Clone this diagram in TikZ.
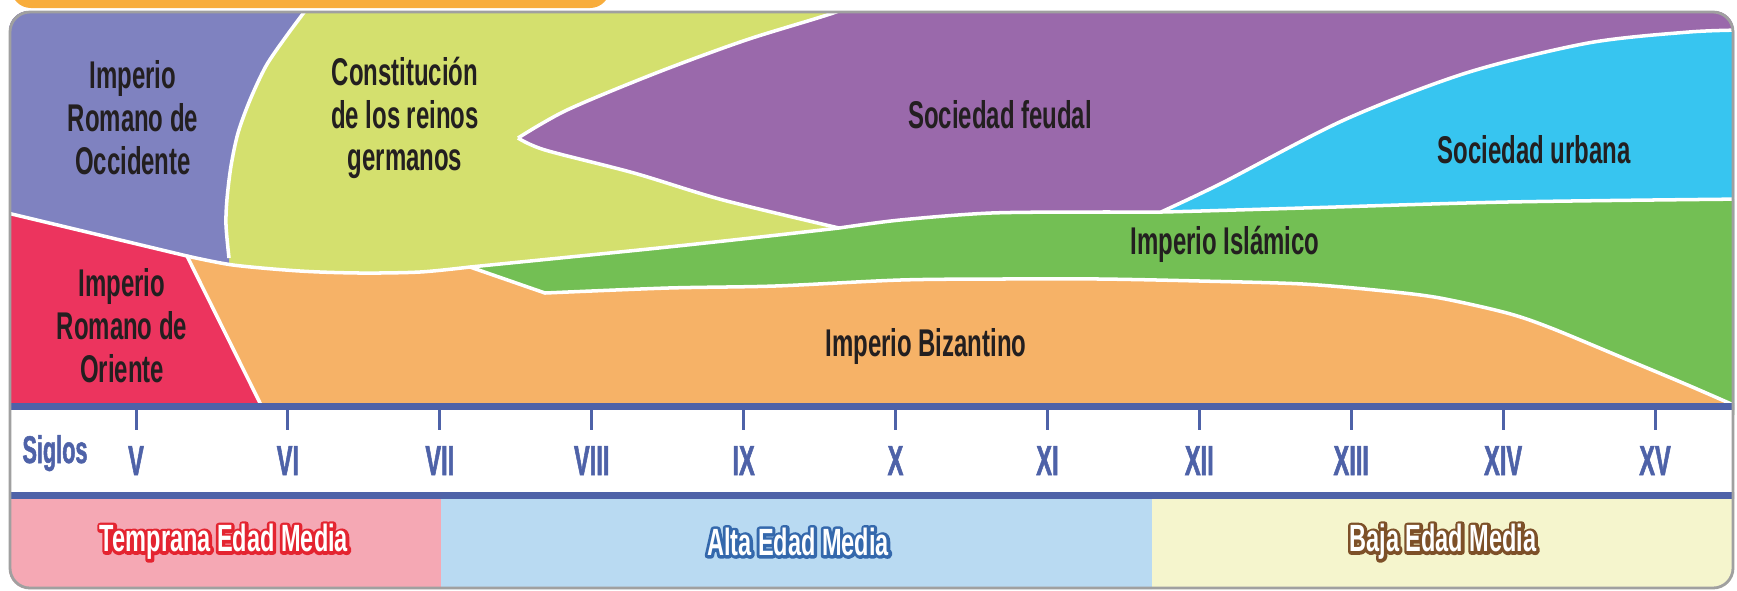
\documentclass[tikz,border=0pt]{standalone}
\usepackage{fontspec}
\setmainfont{Liberation Sans}[FakeStretch=0.62]
\newfontfamily\narrowfont{Liberation Sans}[FakeStretch=0.56,FakeBold=1.2]

\definecolor{occidente}{RGB}{127,130,192}
\definecolor{germanos}{RGB}{212,224,110}
\definecolor{feudal}{RGB}{154,105,171}
\definecolor{urbana}{RGB}{55,197,240}
\definecolor{islamico}{RGB}{115,191,84}
\definecolor{bizantino}{RGB}{246,178,103}
\definecolor{oriente}{RGB}{236,52,94}
\definecolor{axisblue}{RGB}{78,98,168}
\definecolor{temprana}{RGB}{245,168,180}
\definecolor{alta}{RGB}{185,218,242}
\definecolor{baja}{RGB}{245,245,205}
\definecolor{tempranaedge}{RGB}{228,36,48}
\definecolor{altaedge}{RGB}{52,104,172}
\definecolor{bajaedge}{RGB}{125,80,40}
\definecolor{tab}{RGB}{248,173,60}
\definecolor{framegray}{RGB}{160,160,160}
\definecolor{ink}{RGB}{35,31,32}

% white letters with a coloured rim
\newcommand{\edged}[2]{\leavevmode\rlap{\special{pdf:literal direct 2 Tr 1.7 w 1 j}\textcolor{#1}{#2}\special{pdf:literal direct 0 Tr}}#2}

\begin{document}
\begin{tikzpicture}[x=0.1mm,y=-0.1mm,
  border/.style={white,line width=1pt},
  region/.style={text=ink,font=\bfseries\fontsize{11}{12.2}\selectfont,align=center},
  siglo/.style={text=axisblue,font=\narrowfont\bfseries\fontsize{12}{13}\selectfont,anchor=base},
  era/.style={text=white,font=\bfseries\fontsize{10.8}{12}\selectfont},
  sigtick/.style={axisblue,line width=0.3mm}]
\useasboundingbox (0,0) rectangle (1737,590);
\fill[tab,rounded corners=2mm] (11,-30) rectangle (610,8);
\begin{scope}
\clip[rounded corners=2mm] (9,11) rectangle (1734,589);
% zonas
\fill[feudal] (0,0) rectangle (1745,415);
\fill[germanos] (200,-5) -- plot[smooth] coordinates {(862,-2) (836,12) (746,40) (656,73) (567,110) (518,138)}
  -- plot[smooth] coordinates {(518,138) (545,150) (634,173) (723,200) (839,228)} -- (839,415) -- (200,415) -- cycle;
\fill[occidente] (-5,415) -- (229,415) -- plot[smooth] coordinates {(229,258) (226,225) (227,199) (231,166) (238,133) (250,100) (266,66) (285,38) (305,11) (312,1)}
  -- (-5,-5) -- cycle;
\fill[urbana] (1161,415) -- plot[smooth] coordinates {(1161,212) (1222,183) (1344,120) (1466,73) (1588,43) (1689,32) (1745,30)}
  -- (1750,415) -- cycle;
\fill[islamico] (470,415) -- plot[smooth] coordinates {(470,267) (560,258) (668,247) (760,237) (839,228)}
  -- plot[smooth] coordinates {(839,228) (900,220) (991,213) (1100,212) (1161,212) (1303,208) (1507,202) (1745,199)}
  -- (1750,415) -- cycle;
\fill[bizantino] (100,415) -- (100,256) -- plot[smooth] coordinates {(187,256) (233,265) (300,271) (360,273) (420,272) (470,267)}
  -- plot[smooth] coordinates {(545,293) (668,288) (775,286) (900,280) (1000,279) (1100,279) (1200,281) (1303,284) (1385,291) (1440,298) (1507,313) (1551,328) (1628,360) (1690,386) (1745,410)}
  -- (1750,415) -- cycle;
\fill[oriente] (-5,210) -- (187,256) -- (266,415) -- (-5,415) -- cycle;
% bordes blancos
\draw[border] (-5,210) -- (187,256) -- (266,415);
\draw[border] plot[smooth] coordinates {(187,256) (233,265) (300,271) (360,273) (420,272) (470,267)};
\draw[border] plot[smooth] coordinates {(470,267) (560,258) (668,247) (760,237) (839,228)};
\draw[border] plot[smooth] coordinates {(839,228) (900,220) (991,213) (1100,212) (1161,212) (1303,208) (1507,202) (1745,199)};
\draw[border] (470,267) -- plot[smooth] coordinates {(545,293) (668,288) (775,286) (900,280) (1000,279) (1100,279) (1200,281) (1303,284) (1385,291) (1440,298) (1507,313) (1551,328) (1628,360) (1690,386) (1745,410)};
\draw[border] plot[smooth] coordinates {(862,-2) (836,12) (746,40) (656,73) (567,110) (518,138)};
\draw[border] plot[smooth] coordinates {(518,138) (545,150) (634,173) (723,200) (839,228)};
\draw[border] plot[smooth] coordinates {(229,258) (226,225) (227,199) (231,166) (238,133) (250,100) (266,66) (285,38) (305,11) (312,1)};
\draw[border] plot[smooth] coordinates {(1161,212) (1222,183) (1344,120) (1466,73) (1588,43) (1689,32) (1745,30)};
% eje de siglos
\fill[white] (0,406) rectangle (1745,499);
\fill[temprana] (0,499) rectangle (441,600);
\fill[alta] (441,499) rectangle (1152,600);
\fill[baja] (1152,499) rectangle (1745,600);
\draw[axisblue,line width=0.7mm] (0,406) -- (1745,406);
\draw[axisblue,line width=0.7mm] (0,495.5) -- (1745,495.5);
\foreach \s [count=\i from 0] in {V,VI,VII,VIII,IX,X,XI,XII,XIII,XIV,XV}
  \draw[sigtick] (136+151.9*\i,409) -- (136+151.9*\i,430);
\end{scope}
\draw[framegray,line width=0.8pt,rounded corners=2mm] (10,12) rectangle (1733,588);
\node[era] (tem) at (224,542) {\edged{tempranaedge}{Temprana Edad Media}};
\node[era] (alt) at (798,542) {\edged{altaedge}{Alta Edad Media}};
\node[era] (baj) at (1443,542) {\edged{bajaedge}{Baja Edad Media}};
\node[region] (occ) at (133,118) {Imperio\\Romano de\\Occidente};
\node[region] (ger) at (405,118) {Constitución\\de los reinos\\germanos};
\node[region] (feu) at (1000,115) {Sociedad feudal};
\node[region] (urb) at (1534,150) {Sociedad urbana};
\node[region] (isl) at (1225,244) {Imperio Islámico};
\node[region] (ori) at (122,326) {Imperio\\Romano de\\Oriente};
\node[region] (biz) at (926,346) {Imperio Bizantino};
\foreach \s [count=\i from 0] in {V,VI,VII,VIII,IX,X,XI,XII,XIII,XIV,XV}
  \node[siglo] (s\i) at (136+151.9*\i,475) {\s};
\node[siglo] (siglos) at (55,463) {\fontsize{11}{12}\selectfont Siglos};
\end{tikzpicture}
\end{document}
